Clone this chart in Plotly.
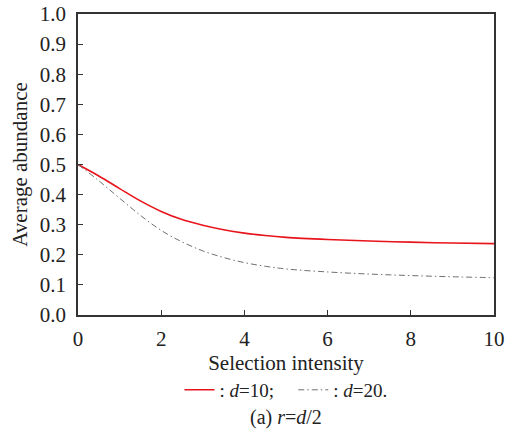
import plotly.graph_objects as go

# Values
intensity = [0, 0.5, 1, 1.5, 2, 2.5, 3, 3.5, 4, 4.5, 5, 6, 7, 8, 9, 10]
abundance_d10 = [0.5, 0.462, 0.420, 0.379, 0.344, 0.317, 0.298, 0.283, 0.272,
                 0.264, 0.258, 0.251, 0.246, 0.242, 0.239, 0.237]
abundance_d20 = [0.5, 0.446, 0.388, 0.331, 0.281, 0.243, 0.213, 0.191, 0.174,
                 0.162, 0.153, 0.143, 0.136, 0.131, 0.127, 0.124]

serif = "Liberation Serif, Times New Roman, serif"
ink = "#222222"

fig = go.Figure()
fig.add_trace(go.Scatter(x=intensity, y=abundance_d10, mode="lines",
                         name=": <i>d</i>=10;&nbsp;&nbsp;&nbsp;",
                         line=dict(color="#e8141b", width=1.6, shape="spline")))
fig.add_trace(go.Scatter(x=intensity, y=abundance_d20, mode="lines",
                         name=": <i>d</i>=20.",
                         line=dict(color="#707070", width=1, shape="spline",
                                   dash="6px,3px,1.5px,3px")))

axis_style = dict(showline=True, linecolor="#333333", linewidth=1.5,
                  mirror=True, ticks="inside", ticklen=5, tickwidth=1,
                  tickcolor="#333333", showgrid=False, zeroline=False,
                  automargin=False,
                  tickfont=dict(family=serif, size=21, color=ink))

fig.update_xaxes(range=[0, 10], dtick=2, ticklabelstandoff=4,
                 title=dict(text="Selection intensity", standoff=4,
                            font=dict(family=serif, size=21, color=ink)),
                 **axis_style)
fig.update_yaxes(range=[0, 1], dtick=0.1, tickformat=".1f",
                 ticklabelstandoff=6,
                 title=dict(text="Average abundance", standoff=6,
                            font=dict(family=serif, size=21, color=ink)),
                 **axis_style)

fig.add_annotation(text="(a) <i>r</i>=<i>d</i>/2", xref="paper", yref="paper",
                   x=0.5, y=-0.342, showarrow=False, yanchor="middle",
                   font=dict(family=serif, size=20, color=ink))

fig.update_layout(
    width=513, height=432,
    margin=dict(l=78, r=19, t=14, b=117),
    paper_bgcolor="white", plot_bgcolor="white",
    font=dict(family=serif, color=ink),
    legend=dict(orientation="h", x=0.5, xanchor="center", y=-0.249,
                yanchor="middle", font=dict(family=serif, size=19, color=ink),
                itemwidth=30, tracegroupgap=0, bgcolor="rgba(0,0,0,0)"),
)

fig.write_html("out.html", config={"displayModeBar": False},
               post_script="document.body.style.margin='0';")
